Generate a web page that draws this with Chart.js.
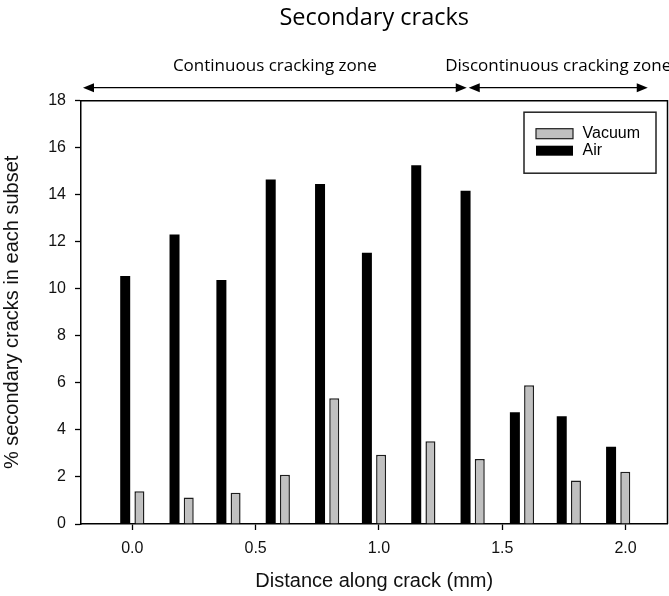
<!DOCTYPE html>
<html>
<head>
<meta charset="utf-8">
<script src="https://cdn.jsdelivr.net/npm/chart.js@4.4.1/dist/chart.umd.min.js"></script>
<style>
  html, body { margin: 0; padding: 0; background: #fff; }
  canvas { display: block; }
</style>
</head>
<body>
<canvas id="chart" width="669" height="596"></canvas>
<script>
// Subset positions along the crack (mm) and share of secondary cracks (%)
const distanceMm = [0.00, 0.20, 0.39, 0.59, 0.79, 0.98, 1.18, 1.38, 1.58, 1.77, 1.97];
const airPct     = [10.55, 12.31, 10.38, 14.65, 14.46, 11.53, 15.25, 14.17, 4.75, 4.58, 3.28];
const vacuumPct  = [1.39, 1.13, 1.33, 2.09, 5.35, 2.95, 3.52, 2.76, 5.90, 1.85, 2.22];

// Axis ticks
const xTickValues = [0.0, 0.5, 1.0, 1.5, 2.0];
const yTickStep = 2;

// Cracking zones shown above the plot (edges in mm)
const zoneEdgesMm = [-0.2, 1.36, 2.09];
const zoneLabels = ['Continuous cracking zone', 'Discontinuous cracking zone'];

const SANS = "'Liberation Sans', Arial, sans-serif";
const HUMANIST = "'Open Sans', 'Noto Sans', sans-serif";

const toPoints = (xs, ys) => xs.map((x, i) => ({ x, y: ys[i] }));

// White page background
const background = {
  id: 'background',
  beforeDraw(chart) {
    const { ctx, width, height } = chart;
    ctx.save();
    ctx.fillStyle = '#fff';
    ctx.fillRect(0, 0, width, height);
    ctx.restore();
  }
};

// Top and right edges of the plot frame
const frame = {
  id: 'frame',
  afterDatasetsDraw(chart) {
    const { ctx, chartArea: a } = chart;
    ctx.save();
    ctx.strokeStyle = '#000';
    ctx.lineWidth = 1.5;
    ctx.beginPath();
    ctx.moveTo(a.left, a.top);
    ctx.lineTo(a.right, a.top);
    ctx.lineTo(a.right, a.bottom);
    ctx.stroke();
    ctx.restore();
  }
};

// Double-headed arrows marking the cracking zones
const zones = {
  id: 'zones',
  afterDraw(chart) {
    const { ctx, chartArea, scales: { x } } = chart;
    const y = chartArea.top - 13;
    const headLen = 11, headHalf = 4.5;
    const head = (tipX, dir) => {
      ctx.beginPath();
      ctx.moveTo(tipX, y);
      ctx.lineTo(tipX - dir * headLen, y - headHalf);
      ctx.lineTo(tipX - dir * headLen, y + headHalf);
      ctx.closePath();
      ctx.fill();
    };
    ctx.save();
    ctx.strokeStyle = '#000';
    ctx.fillStyle = '#000';
    ctx.lineWidth = 1.2;
    for (let i = 0; i < zoneLabels.length; i++) {
      let a = x.getPixelForValue(zoneEdgesMm[i]);
      let b = x.getPixelForValue(zoneEdgesMm[i + 1]);
      if (i > 0) a += 1;
      if (i < zoneLabels.length - 1) b -= 1;
      ctx.beginPath();
      ctx.moveTo(a + 4, y);
      ctx.lineTo(b - 4, y);
      ctx.stroke();
      head(a, -1);
      head(b, 1);
      ctx.font = '17px ' + HUMANIST;
      ctx.textAlign = 'center';
      ctx.textBaseline = 'alphabetic';
      ctx.fillStyle = '#000';
      ctx.fillText(zoneLabels[i], (a + b) / 2, y - 17);
    }
    ctx.restore();
  }
};

// Boxed legend in the upper right of the plot, vacuum listed first
const boxedLegend = {
  id: 'boxedLegend',
  afterDraw(chart) {
    const { ctx, chartArea: a } = chart;
    const right = a.right - 11.5, top = a.top + 11.5;
    const w = 132, h = 61;
    const left = right - w;
    ctx.save();
    ctx.fillStyle = '#fff';
    ctx.fillRect(left, top, w, h);
    ctx.strokeStyle = '#222';
    ctx.lineWidth = 1.5;
    ctx.strokeRect(left, top, w, h);
    const items = chart.data.datasets.slice().reverse();
    items.forEach((ds, i) => {
      const sy = top + 16.5 + i * 17;
      ctx.fillStyle = ds.backgroundColor;
      ctx.fillRect(left + 12, sy, 37, 10);
      if (ds.borderWidth) {
        ctx.strokeStyle = ds.borderColor;
        ctx.lineWidth = 1.2;
        ctx.strokeRect(left + 12, sy, 37, 10);
      }
      ctx.fillStyle = '#000';
      ctx.font = '16px ' + SANS;
      ctx.textAlign = 'left';
      ctx.textBaseline = 'middle';
      ctx.fillText(ds.label, left + 58.5, sy + 5);
    });
    ctx.restore();
  }
};

new Chart(document.getElementById('chart'), {
  type: 'bar',
  data: {
    datasets: [
      {
        label: 'Air',
        data: toPoints(distanceMm, airPct),
        backgroundColor: '#000',
        borderWidth: 0
      },
      {
        label: 'Vacuum',
        data: toPoints(distanceMm, vacuumPct),
        backgroundColor: '#c0c0c0',
        borderColor: '#1e1e1e',
        borderWidth: 1.5
      }
    ]
  },
  options: {
    responsive: false,
    animation: false,
    events: [],
    devicePixelRatio: 1,
    categoryPercentage: 0.606,
    barPercentage: 0.704,
    layout: { padding: { left: 0, right: 1.5, top: 0, bottom: 0 } },
    plugins: {
      legend: { display: false },
      tooltip: { enabled: false },
      title: {
        display: true,
        text: 'Secondary cracks',
        fullSize: false,
        color: '#000',
        font: { family: HUMANIST, size: 23.5, weight: 'normal' },
        padding: { top: 4, bottom: 68.5 }
      }
    },
    scales: {
      x: {
        type: 'linear',
        min: -0.208,
        max: 2.170,
        offset: false,
        afterBuildTicks(scale) {
          scale.ticks = xTickValues.map(v => ({ value: v }));
        },
        afterFit(scale) { scale.height = 72; },
        ticks: {
          padding: 9,
          color: '#111',
          font: { family: SANS, size: 16 },
          callback: v => Number(v).toFixed(1)
        },
        grid: {
          offset: false,
          drawOnChartArea: false,
          drawTicks: true,
          tickLength: 6,
          tickColor: '#000',
          tickWidth: 1.3
        },
        border: { display: true, color: '#000', width: 1.5 },
        title: {
          display: true,
          text: 'Distance along crack (mm)',
          color: '#111',
          font: { family: SANS, size: 20 },
          padding: { top: 0, bottom: 3 }
        }
      },
      y: {
        min: 0,
        max: 18,
        afterFit(scale) { scale.width = 81; },
        ticks: {
          stepSize: yTickStep,
          padding: 9,
          color: '#111',
          font: { family: SANS, size: 16 }
        },
        grid: {
          drawOnChartArea: false,
          drawTicks: true,
          tickLength: 6,
          tickColor: '#000',
          tickWidth: 1.3
        },
        border: { display: true, color: '#000', width: 1.5 },
        title: {
          display: true,
          text: '% secondary cracks in each subset',
          color: '#111',
          font: { family: SANS, size: 20 },
          padding: { top: 0, bottom: 0 }
        }
      }
    }
  },
  plugins: [background, frame, zones, boxedLegend]
});
</script>
</body>
</html>
